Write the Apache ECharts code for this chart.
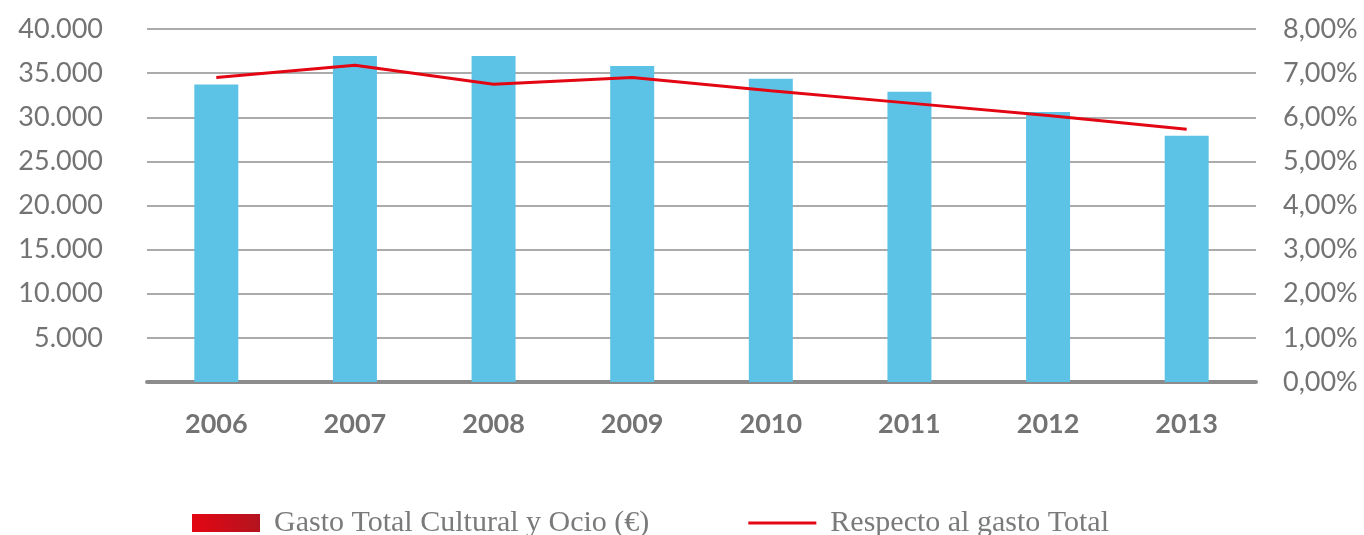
<!DOCTYPE html>
<html>
<head>
<meta charset="utf-8">
<script src="https://cdn.jsdelivr.net/npm/echarts@6/dist/echarts.min.js"></script>
<style>
html,body{margin:0;padding:0;background:#fff;}
#chart{width:1364px;height:535px;}
</style>
</head>
<body>
<div id="chart"></div>
<script>
const years = ['2006','2007','2008','2009','2010','2011','2012','2013'];
const gastoCultural = [33700, 36950, 36950, 35800, 34350, 32900, 30600, 27900];
const respectoTotal = [6.90, 7.18, 6.75, 6.90, 6.60, 6.32, 6.04, 5.73];
const seriesNames = ['Gasto Total Cultural y Ocio (€)', 'Respecto al gasto Total'];

const gray = '#737373';
const chart = echarts.init(document.getElementById('chart'));
chart.setOption({
  animation: false,
  backgroundColor: '#fff',
  grid: { left: 147, right: 108, top: 29, bottom: 153 },
  legend: {
    left: 187, top: 503, padding: 5,
    itemWidth: 68, itemHeight: 18, itemGap: 99,
    textStyle: { fontFamily: 'Liberation Serif', fontSize: 30, lineHeight: 30, color: '#7a7a7a', padding: [0,0,0,9] },
    data: [
      { name: seriesNames[0], icon: 'rect',
        itemStyle: { color: { type: 'linear', x: 0, y: 0, x2: 1, y2: 0,
          colorStops: [{ offset: 0, color: '#e30613' }, { offset: 1, color: '#b3141f' }] } } },
      { name: seriesNames[1],
        icon: 'path://M0,7.6 H68 V10.4 H0 Z M0,0 L0.01,0 L0,0.01 Z M68,18 L67.99,18 L68,17.99 Z',
        itemStyle: { color: '#e30613' } }
    ]
  },
  xAxis: {
    type: 'category', data: years,
    axisLine: { lineStyle: { color: '#8c8c8c', width: 4 } },
    axisTick: { show: false },
    axisLabel: { fontFamily: 'Lato', fontWeight: 'bold', fontSize: 27, color: gray, margin: 29 }
  },
  yAxis: [
    { type: 'value', min: 0, max: 40000, interval: 5000,
      axisLine: { show: false }, axisTick: { show: false },
      splitLine: { lineStyle: { color: '#8f8f8f', width: 1.5 } },
      axisLabel: { fontFamily: 'Lato', fontSize: 27, color: gray, margin: 44,
        formatter: v => v === 0 ? '' : (v/1000).toFixed(3) }
    },
    { type: 'value', min: 0, max: 8, interval: 1,
      axisLine: { show: false }, axisTick: { show: false }, splitLine: { show: false },
      axisLabel: { fontFamily: 'Lato', fontSize: 27, color: gray, margin: 27,
        formatter: v => v.toFixed(2).replace('.', ',') + '%' }
    }
  ],
  series: [
    { name: seriesNames[0], type: 'bar', data: gastoCultural, barWidth: 44,
      itemStyle: { color: '#5dc3e6' } },
    { name: seriesNames[1], type: 'line', yAxisIndex: 1, data: respectoTotal,
      symbol: 'none', lineStyle: { color: '#e30613', width: 3 }, itemStyle: { color: '#e30613' } }
  ]
});
</script>
</body>
</html>
